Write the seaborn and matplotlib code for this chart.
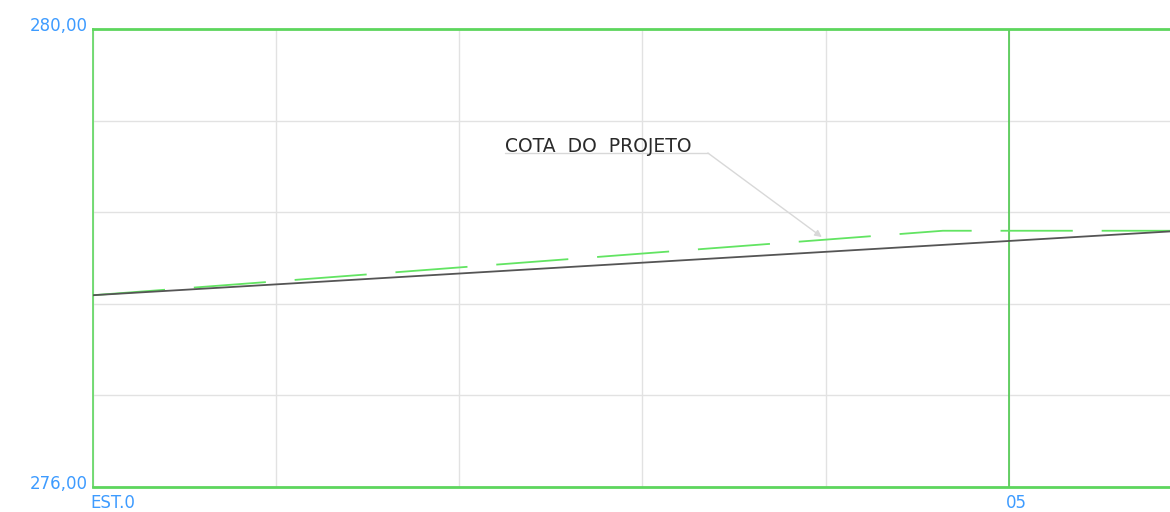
import matplotlib
matplotlib.use('Agg')
import matplotlib.pyplot as plt
import matplotlib.transforms as mtransforms
import seaborn as sns

# Stations (EST) and elevations
terrain_x = [0.0, 5.88]
terrain_y = [277.675, 278.232]

project_x = [0.0, 4.64, 5.88]
project_y = [277.675, 278.238, 278.238]

y_ticks = [276.0, 276.8, 277.6, 278.4, 279.2, 280.0]
y_labels = ['276,00', '', '', '', '', '280,00']
x_ticks = [0, 1, 2, 3, 4, 5]
x_labels = ['EST.0', '', '', '', '', '05']

sns.set_style('white')
plt.rcParams['font.family'] = ['DejaVu Sans']

fig = plt.figure(figsize=(11.7, 5.12), dpi=100)
ax = fig.add_axes([93 / 1170, 25 / 512, 1 - 93 / 1170, 458 / 512])

# grid
ax.set_xticks(x_ticks)
ax.set_xticklabels(x_labels)
ax.set_yticks(y_ticks)
ax.set_yticklabels(y_labels)
ax.grid(True, color='#e2e2e2', linewidth=1.0)
ax.set_xlim(0, 5.88)
ax.set_ylim(276, 280)

ax.axvline(5, color='#3fc63f', linewidth=1.1, zorder=2)

# lines
sns.lineplot(x=project_x, y=project_y, ax=ax, color='#62e462', linewidth=1.3,
             linestyle=(0, (40, 16)), zorder=3)
sns.lineplot(x=terrain_x, y=terrain_y, ax=ax, color='#555555', linewidth=1.3, zorder=4)

# frame
for s in ['left', 'top', 'bottom']:
    ax.spines[s].set_color('#5dd65d')
ax.spines['left'].set_linewidth(1.2)
ax.spines['top'].set_linewidth(2.0)
ax.spines['bottom'].set_linewidth(2.0)
ax.spines['right'].set_visible(False)

ax.tick_params(length=0, colors='#3d9bff', labelsize=12)
ax.tick_params(axis='y', pad=4)
ax.tick_params(axis='x', pad=5)
for lab in ax.get_yticklabels():
    lab.set_transform(lab.get_transform() + mtransforms.ScaledTranslation(0, 5 / 100, fig.dpi_scale_trans))
for lab in ax.get_xticklabels():
    lab.set_horizontalalignment('left')
    lab.set_transform(lab.get_transform() + mtransforms.ScaledTranslation(-3 / 100, 0, fig.dpi_scale_trans))

# annotation
ax.text(2.249, 278.975, 'COTA  DO  PROJETO', fontsize=13.5, color='#2a2a2a',
        ha='left', va='center')
ax.plot([2.249, 3.357], [278.917, 278.917], color='#d8d8d8', linewidth=1.0)
ax.annotate('', xy=(3.979, 278.183), xytext=(3.357, 278.917),
            arrowprops=dict(arrowstyle='-|>', color='#d8d8d8', lw=1.0,
                            mutation_scale=10, shrinkA=0, shrinkB=0))

ax.set_xlabel('')
ax.set_ylabel('')
fig.savefig('out.png', dpi=100)
